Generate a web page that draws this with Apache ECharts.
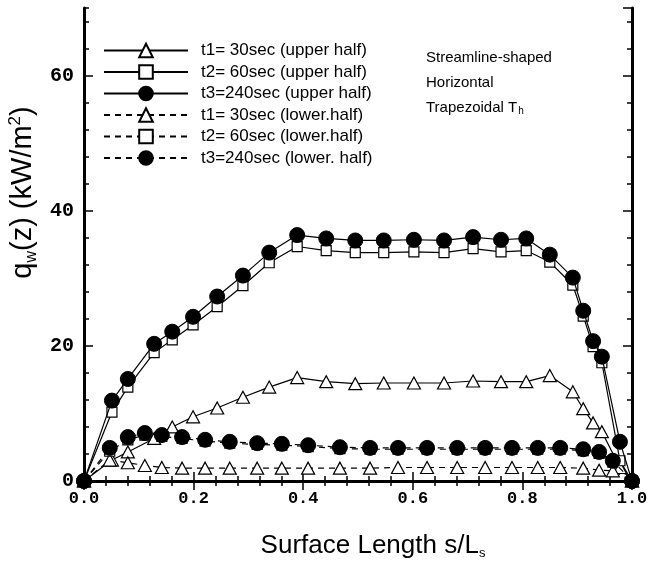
<!DOCTYPE html>
<html>
<head>
<meta charset="utf-8">
<script src="https://cdn.jsdelivr.net/npm/echarts@6/dist/echarts.min.js"></script>
<style>html,body{margin:0;padding:0;background:#fff}#c{width:655px;height:561px}</style>
</head>
<body>
<div id="c"></div>
<script>
// surface positions s/Ls
var sUpper = [0, 0.051, 0.080, 0.128, 0.161, 0.199, 0.243, 0.290, 0.338, 0.389, 0.442, 0.495, 0.547, 0.602, 0.657, 0.710, 0.761, 0.807, 0.850, 0.892, 0.911, 0.929, 0.945, 0.978, 1.0];
var upperT1 = [0, 3.1, 4.3, 6.3, 8.0, 9.5, 10.8, 12.4, 13.9, 15.3, 14.7, 14.4, 14.5, 14.5, 14.5, 14.8, 14.7, 14.7, 15.6, 13.2, 10.7, 8.6, 7.3, 2.0, 0];
var upperT2 = [0, 10.2, 13.9, 19.0, 20.9, 23.1, 25.8, 28.9, 32.3, 34.7, 34.1, 33.8, 33.8, 33.9, 33.8, 34.4, 33.9, 34.1, 32.4, 29.0, 24.4, 19.9, 17.5, 3.0, 0];
var upperT3 = [0, 11.9, 15.1, 20.3, 22.1, 24.3, 27.3, 30.4, 33.8, 36.4, 35.9, 35.6, 35.6, 35.7, 35.6, 36.1, 35.7, 35.9, 33.5, 30.1, 25.2, 20.7, 18.4, 5.8, 0];

var sLower = [0, 0.047, 0.080, 0.111, 0.142, 0.179, 0.221, 0.266, 0.316, 0.361, 0.409, 0.467, 0.522, 0.573, 0.626, 0.681, 0.732, 0.781, 0.828, 0.869, 0.911, 0.940, 0.965, 1.0];
var lowerT1 = [0, 3.1, 2.7, 2.3, 2.0, 1.9, 1.9, 1.9, 1.9, 1.9, 1.9, 1.9, 1.9, 2.0, 2.0, 2.0, 2.0, 2.0, 2.0, 2.0, 1.9, 1.6, 1.5, 0];
var lowerT2 = [0, 4.4, 6.1, 6.8, 6.6, 6.3, 5.9, 5.6, 5.4, 5.3, 5.1, 4.8, 4.7, 4.7, 4.7, 4.7, 4.7, 4.7, 4.7, 4.7, 4.5, 4.1, 2.8, 0];
var lowerT3 = [0, 4.9, 6.5, 7.1, 6.8, 6.5, 6.1, 5.8, 5.6, 5.5, 5.3, 5.0, 4.9, 4.9, 4.9, 4.9, 4.9, 4.9, 4.9, 4.9, 4.7, 4.3, 3.0, 0];

var seriesNames = ['t1= 30sec (upper half)', 't2= 60sec (upper half)', 't3=240sec (upper half)',
                   't1= 30sec (lower.half)', 't2= 60sec (lower.half)', 't3=240sec (lower. half)'];
var xTicks = [0, 0.2, 0.4, 0.6, 0.8, 1.0];
var yTicks = [0, 20, 40, 60];
var noteLines = ['Streamline-shaped', 'Horizontal', 'Trapezoidal T'];

function zip(xs, ys) { return xs.map(function (x, i) { return [x, ys[i]]; }); }

var monoFont = '"Liberation Mono", "DejaVu Sans Mono", monospace';
var sansFont = '"Liberation Sans", Arial, sans-serif';

var symDefs = {
  tri: { symbol: 'triangle', symbolSize: [13, 12], itemStyle: { color: '#fff', borderColor: '#000', borderWidth: 1.2 } },
  sq: { symbol: 'rect', symbolSize: 10, itemStyle: { color: '#fff', borderColor: '#000', borderWidth: 1.2 } },
  cir: { symbol: 'circle', symbolSize: 15, itemStyle: { color: '#000', borderColor: '#000', borderWidth: 1 } }
};

function mk(name, data, sym, dashed) {
  var d = symDefs[sym];
  return {
    name: name, type: 'line', data: data, clip: false,
    symbol: d.symbol, symbolSize: d.symbolSize, showAllSymbol: true,
    itemStyle: d.itemStyle,
    lineStyle: { color: '#000', width: 1.2, type: dashed ? [6, 5] : 'solid' },
    emphasis: { disabled: true }, animation: false, z: sym === 'cir' ? 4 : 3
  };
}

var series = [
  mk(seriesNames[0], zip(sUpper, upperT1), 'tri', false),
  mk(seriesNames[1], zip(sUpper, upperT2), 'sq', false),
  mk(seriesNames[2], zip(sUpper, upperT3), 'cir', false),
  mk(seriesNames[3], zip(sLower, lowerT1), 'tri', true),
  mk(seriesNames[4], zip(sLower, lowerT2), 'sq', true),
  mk(seriesNames[5], zip(sLower, lowerT3), 'cir', true)
];

var axLine = { show: true, lineStyle: { color: '#000', width: 3 } };

function xAx(pos, labels) {
  return {
    type: 'value', position: pos, min: xTicks[0], max: xTicks[xTicks.length - 1], interval: xTicks[1] - xTicks[0],
    axisLine: axLine, splitLine: { show: false },
    axisTick: { show: true, inside: true, length: 9, lineStyle: { color: '#000', width: 1.5 } },
    minorTick: { show: true, splitNumber: 5, length: 5, lineStyle: { color: '#000', width: 1.5 } },
    axisLabel: { show: labels, margin: 9, color: '#000', fontFamily: monoFont, fontWeight: 'bold', fontSize: 17,
      formatter: function (v) { return v.toFixed(1); } },
    name: labels ? '{a|Surface Length s/L}{s|s}' : '',
    nameLocation: 'middle', nameGap: 50,
    nameTextStyle: { rich: {
      a: { fontFamily: sansFont, fontSize: 26, color: '#000', padding: [0, 0, 0, 30] },
      s: { fontFamily: sansFont, fontSize: 13, color: '#000', padding: [16, 0, 0, 0] } } }
  };
}
function yAx(pos, major, labels) {
  return {
    type: 'value', position: pos, min: 0, max: 70, interval: major ? (yTicks[1] - yTicks[0]) : 4,
    axisLine: major ? axLine : { show: false }, splitLine: { show: false },
    axisTick: { show: true, inside: true, length: major ? 9 : 5, lineStyle: { color: '#000', width: 1.5 } },
    axisLabel: { show: labels, margin: 10, color: '#000', fontFamily: monoFont, fontWeight: 'bold', fontSize: 20, showMaxLabel: false },
    name: labels ? '{a|q}{s|w}{a|(z) (kW/m}{p|2}{a|)}' : '',
    nameLocation: 'middle', nameGap: 31, nameRotate: 90,
    nameTextStyle: { padding: [0, 0, 0, 104], rich: {
      a: { fontFamily: sansFont, fontSize: 29, color: '#000' },
      s: { fontFamily: sansFont, fontSize: 16, color: '#000', padding: [16, 0, 0, 0] },
      p: { fontFamily: sansFont, fontSize: 17, color: '#000', padding: [0, 0, 16, 0] } } }
  };
}

var option = {
  backgroundColor: '#fff',
  animation: false,
  grid: { left: 84, right: 23, top: 8, bottom: 80, containLabel: false, outerBoundsMode: 'none' },
  xAxis: [xAx('bottom', true), xAx('top', false)],
  yAxis: [yAx('left', true, true), yAx('left', false, false), yAx('right', true, false), yAx('right', false, false)],
  legend: {
    orient: 'vertical', left: 103, top: 42, padding: 0, itemWidth: 84, itemHeight: 17, itemGap: 4.5,
    data: seriesNames, selectedMode: false,
    textStyle: { fontFamily: sansFont, fontSize: 17, color: '#000', padding: [0, 0, 0, 8] }
  },
  graphic: [
    { type: 'text', left: 426, top: 50, style: { text: noteLines[0], font: '15px ' + sansFont, fill: '#000' } },
    { type: 'text', left: 426, top: 75, style: { text: noteLines[1], font: '15px ' + sansFont, fill: '#000' } },
    { type: 'text', left: 426, top: 100, style: { text: '{a|' + noteLines[2] + '}{s|h}', rich: {
        a: { font: '15px ' + sansFont, fill: '#000' }, s: { font: '10px ' + sansFont, fill: '#000', padding: [8, 0, 0, 1] } } } }
  ],
  series: series
};

var chart = echarts.init(document.getElementById('c'), null, { renderer: 'canvas' });
chart.setOption(option);
</script>
</body>
</html>
